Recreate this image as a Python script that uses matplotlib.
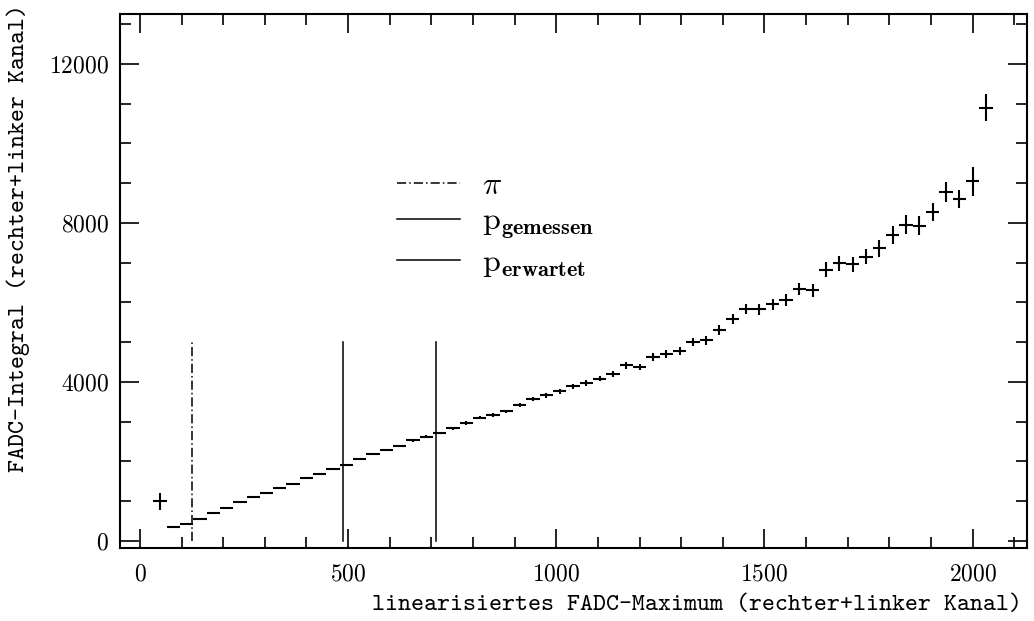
"""
FADC-Integral vs. linearisiertes FADC-Maximum
---------------------------------------------
Profile plot with pion / proton marker lines.
"""

import matplotlib
matplotlib.use('Agg')
import matplotlib.pyplot as plt
from matplotlib.lines import Line2D
from matplotlib.ticker import MultipleLocator

# bin centres (bin width 32 channels)
fadc_max = [48, 80, 112, 144, 176, 208, 240, 272, 304, 336, 368, 400, 432,
            464, 496, 528, 560, 592, 624, 656, 688, 720, 752, 784, 816, 848,
            880, 912, 944, 976, 1008, 1040, 1072, 1104, 1136, 1168, 1200,
            1232, 1264, 1296, 1328, 1360, 1392, 1424, 1456, 1488, 1520, 1552,
            1584, 1616, 1648, 1680, 1712, 1744, 1776, 1808, 1840, 1872, 1904,
            1936, 1968, 2000, 2032]
fadc_int = [990, 340, 425, 555, 705, 830, 965, 1100, 1215, 1320, 1440, 1580,
            1685, 1810, 1905, 2050, 2175, 2280, 2385, 2525, 2620, 2715, 2835,
            2965, 3100, 3160, 3255, 3430, 3560, 3660, 3765, 3885, 3975, 4080,
            4200, 4415, 4370, 4625, 4690, 4775, 5005, 5050, 5310, 5585, 5835,
            5830, 5950, 6055, 6335, 6300, 6825, 6980, 6960, 7155, 7365, 7690,
            7950, 7930, 8280, 8775, 8610, 9050, 10900]
int_err = [220, 10, 20, 10, 10, 10, 15, 15, 15, 15, 20, 20, 20, 25, 30, 25,
           25, 30, 30, 30, 35, 35, 40, 40, 40, 45, 45, 50, 50, 60, 60, 65,
           70, 70, 75, 90, 80, 90, 100, 95, 110, 115, 120, 130, 130, 140,
           140, 150, 160, 160, 180, 190, 190, 200, 210, 230, 240, 240, 230,
           260, 230, 360, 340]
bin_halfwidth = 16

# marker lines
line_labels = [r'$\pi$', r'$\mathrm{p}_{\mathbf{gemessen}}$',
               r'$\mathrm{p}_{\mathbf{erwartet}}$']
line_pos = [124, 488, 711]
line_styles = [(0, (6, 2, 1, 2)), '-', '-']
line_top = 5000

plt.rcParams['mathtext.fontset'] = 'cm'
plt.rcParams['axes.formatter.use_mathtext'] = True
plt.rcParams['font.family'] = 'cmr10'

fig = plt.figure(figsize=(10.34, 6.21), dpi=100)
ax = fig.add_axes([0.116, 0.1176, 0.877, 0.86])

ax.errorbar(fadc_max, fadc_int, xerr=bin_halfwidth, yerr=int_err,
            fmt='none', ecolor='black', elinewidth=1.5, capsize=0)

for pos, ls in zip(line_pos, line_styles):
    ax.plot([pos, pos], [0, line_top], color='black', linestyle=ls, lw=1.1)

ax.set_xlim(-48, 2130)
ax.set_ylim(-180, 13260)

ax.xaxis.set_major_locator(MultipleLocator(500))
ax.xaxis.set_minor_locator(MultipleLocator(100))
ax.yaxis.set_major_locator(MultipleLocator(4000))
ax.yaxis.set_minor_locator(MultipleLocator(1000))
ax.tick_params(which='both', direction='in', top=True, right=True,
               width=1.2, colors='black')
ax.tick_params(which='major', length=14, labelsize=17, pad=8)
ax.tick_params(axis='x', which='major', pad=11)
ax.tick_params(which='minor', length=8)
for sp in ax.spines.values():
    sp.set_linewidth(1.5)

handles = [Line2D([0], [0], color='black', lw=1.1, linestyle=ls)
           for ls in line_styles]
ax.legend(handles, line_labels, loc='upper left',
          bbox_to_anchor=(0.306, 0.705), frameon=False, fontsize=23,
          handlelength=1.95, handletextpad=0.7, labelspacing=0.24,
          borderpad=0, borderaxespad=0)

fig.text(1022 / 1034, 1 - 605 / 621,
         'linearisiertes FADC-Maximum (rechter+linker Kanal)',
         family='cmtt10', fontsize=17.8, ha='right', va='center')
fig.text(18 / 1034, 1 - 4 / 621, 'FADC-Integral (rechter+linker Kanal)',
         family='cmtt10', fontsize=17.8, rotation=90, ha='center', va='top')

fig.savefig('out.png', dpi=100)
